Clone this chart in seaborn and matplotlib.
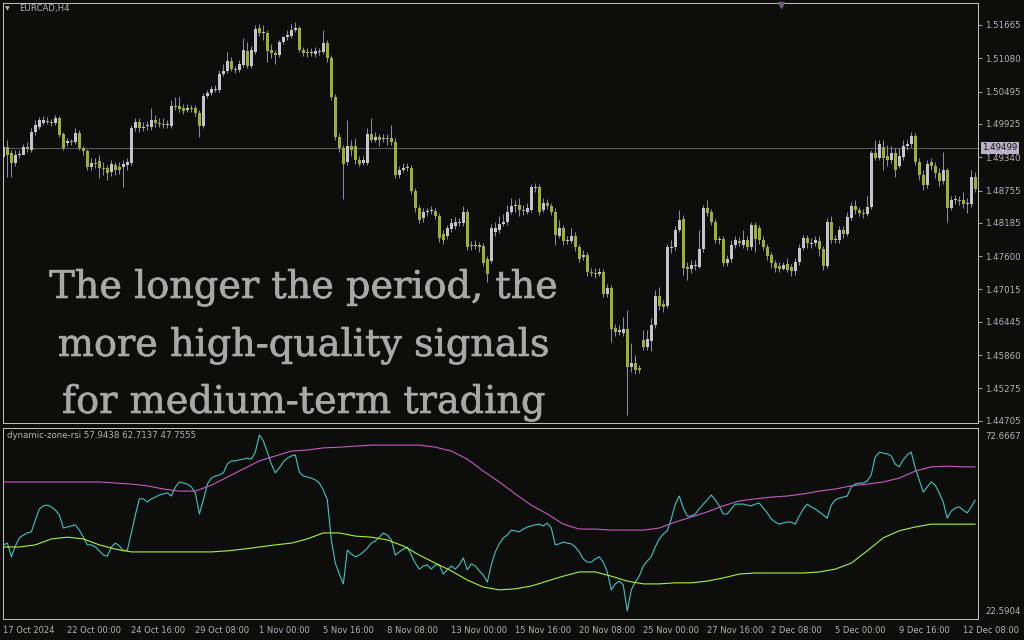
import matplotlib
matplotlib.use("Agg")
import matplotlib.pyplot as plt
import matplotlib.patheffects as pe
import numpy as np
import pandas as pd
import seaborn as sns

# EURCAD H4 candles, 244 bars
opens = [
    1.4934, 1.4952, 1.4941, 1.4924, 1.4938, 1.4938, 1.4952, 1.4947, 1.4978, 1.4987,
    1.4994, 1.4998, 1.4996, 1.4994, 1.5003, 1.4975, 1.4959, 1.4963, 1.4961, 1.4977,
    1.4950, 1.4945, 1.4917, 1.4924, 1.4927, 1.4915, 1.4915, 1.4908, 1.4920, 1.4917,
    1.4917, 1.4920, 1.4924, 1.4985, 1.4996, 1.4985, 1.4989, 1.4987, 1.4999, 1.4994,
    1.4992, 1.4991, 1.4989, 1.5024, 1.5024, 1.5021, 1.5017, 1.5021, 1.5021, 1.5012,
    1.4989, 1.5042, 1.5047, 1.5052, 1.5052, 1.5080, 1.5086, 1.5103, 1.5089, 1.5087,
    1.5096, 1.5121, 1.5094, 1.5119, 1.5161, 1.5152, 1.5152, 1.5123, 1.5117, 1.5114,
    1.5137, 1.5145, 1.5147, 1.5158, 1.5161, 1.5123, 1.5119, 1.5117, 1.5116, 1.5121,
    1.5119, 1.5135, 1.5108, 1.5040, 1.4970, 1.4950, 1.4926, 1.4954, 1.4954, 1.4929,
    1.4924, 1.4924, 1.4975, 1.4964, 1.4970, 1.4966, 1.4968, 1.4968, 1.4961, 1.4903,
    1.4912, 1.4915, 1.4915, 1.4875, 1.4845, 1.4827, 1.4838, 1.4840, 1.4840, 1.4831,
    1.4799, 1.4796, 1.4808, 1.4813, 1.4818, 1.4818, 1.4838, 1.4780, 1.4778, 1.4780,
    1.4778, 1.4755, 1.4752, 1.4803, 1.4806, 1.4817, 1.4820, 1.4838, 1.4848, 1.4850,
    1.4841, 1.4838, 1.4841, 1.4880, 1.4882, 1.4841, 1.4854, 1.4848, 1.4838, 1.4796,
    1.4810, 1.4787, 1.4787, 1.4796, 1.4776, 1.4759, 1.4762, 1.4732, 1.4731, 1.4729,
    1.4732, 1.4694, 1.4704, 1.4634, 1.4627, 1.4625, 1.4632, 1.4565, 1.4572, 1.4563,
    1.4613, 1.4600, 1.4611, 1.4639, 1.4690, 1.4676, 1.4673, 1.4774, 1.4776, 1.4806,
    1.4825, 1.4741, 1.4738, 1.4743, 1.4741, 1.4773, 1.4845, 1.4838, 1.4820, 1.4789,
    1.4790, 1.4748, 1.4755, 1.4780, 1.4787, 1.4780, 1.4789, 1.4776, 1.4815, 1.4810,
    1.4789, 1.4776, 1.4762, 1.4748, 1.4743, 1.4738, 1.4746, 1.4741, 1.4734, 1.4750,
    1.4774, 1.4792, 1.4781, 1.4783, 1.4787, 1.4773, 1.4743, 1.4820, 1.4789, 1.4789,
    1.4806, 1.4799, 1.4827, 1.4848, 1.4841, 1.4836, 1.4834, 1.4847, 1.4941, 1.4933,
    1.4952, 1.4936, 1.4929, 1.4941, 1.4919, 1.4934, 1.4954, 1.4957, 1.4971, 1.4926,
    1.4903, 1.4885, 1.4926, 1.4919, 1.4906, 1.4892, 1.4912, 1.4845, 1.4859, 1.4859,
    1.4859, 1.4852, 1.4852, 1.4899,
]
highs = [
    1.4982, 1.4964, 1.4947, 1.4947, 1.4947, 1.4957, 1.4961, 1.4985, 1.4999, 1.5005,
    1.5006, 1.5005, 1.5001, 1.5008, 1.5006, 1.4978, 1.4968, 1.4966, 1.4985, 1.4982,
    1.4954, 1.4949, 1.4933, 1.4933, 1.4938, 1.4926, 1.4920, 1.4929, 1.4926, 1.4926,
    1.4929, 1.4933, 1.4991, 1.5003, 1.5003, 1.4996, 1.4998, 1.5021, 1.5008, 1.5003,
    1.5003, 1.4999, 1.5035, 1.5040, 1.5040, 1.5028, 1.5028, 1.5026, 1.5026, 1.5017,
    1.5047, 1.5052, 1.5059, 1.5061, 1.5087, 1.5098, 1.5119, 1.5110, 1.5094, 1.5105,
    1.5144, 1.5137, 1.5130, 1.5166, 1.5168, 1.5166, 1.5158, 1.5133, 1.5123, 1.5140,
    1.5147, 1.5158, 1.5168, 1.5172, 1.5165, 1.5128, 1.5126, 1.5126, 1.5128, 1.5126,
    1.5158, 1.5140, 1.5114, 1.5045, 1.4977, 1.4956, 1.4999, 1.4964, 1.4968, 1.4936,
    1.4936, 1.4985, 1.5003, 1.4978, 1.4975, 1.4975, 1.4975, 1.4991, 1.4968, 1.4919,
    1.4924, 1.4924, 1.4920, 1.4880, 1.4850, 1.4845, 1.4845, 1.4848, 1.4845, 1.4836,
    1.4806, 1.4815, 1.4827, 1.4829, 1.4827, 1.4848, 1.4843, 1.4787, 1.4789, 1.4785,
    1.4783, 1.4760, 1.4817, 1.4820, 1.4831, 1.4834, 1.4850, 1.4862, 1.4859, 1.4862,
    1.4850, 1.4854, 1.4887, 1.4889, 1.4887, 1.4862, 1.4861, 1.4854, 1.4845, 1.4824,
    1.4815, 1.4796, 1.4810, 1.4803, 1.4781, 1.4771, 1.4767, 1.4739, 1.4739, 1.4739,
    1.4738, 1.4711, 1.4709, 1.4641, 1.4639, 1.4653, 1.4666, 1.4607, 1.4586, 1.4569,
    1.4630, 1.4630, 1.4651, 1.4701, 1.4706, 1.4683, 1.4781, 1.4789, 1.4813, 1.4841,
    1.4832, 1.4750, 1.4753, 1.4753, 1.4806, 1.4850, 1.4859, 1.4843, 1.4825, 1.4796,
    1.4796, 1.4762, 1.4789, 1.4796, 1.4794, 1.4806, 1.4796, 1.4820, 1.4820, 1.4815,
    1.4796, 1.4781, 1.4767, 1.4753, 1.4750, 1.4750, 1.4757, 1.4746, 1.4757, 1.4781,
    1.4797, 1.4797, 1.4792, 1.4796, 1.4796, 1.4778, 1.4827, 1.4831, 1.4797, 1.4813,
    1.4813, 1.4838, 1.4855, 1.4859, 1.4847, 1.4843, 1.4866, 1.4947, 1.4964, 1.4964,
    1.4964, 1.4956, 1.4954, 1.4950, 1.4950, 1.4964, 1.4964, 1.4978, 1.4977, 1.4933,
    1.4912, 1.4929, 1.4933, 1.4926, 1.4915, 1.4943, 1.4915, 1.4866, 1.4868, 1.4866,
    1.4873, 1.4862, 1.4912, 1.4908,
]
lows = [
    1.4929, 1.4899, 1.4899, 1.4919, 1.4933, 1.4947, 1.4943, 1.4943, 1.4973, 1.4984,
    1.4991, 1.4992, 1.4989, 1.4991, 1.4970, 1.4947, 1.4954, 1.4956, 1.4957, 1.4947,
    1.4938, 1.4912, 1.4912, 1.4915, 1.4898, 1.4903, 1.4894, 1.4901, 1.4903, 1.4905,
    1.4882, 1.4912, 1.4920, 1.4980, 1.4978, 1.4980, 1.4982, 1.4982, 1.4987, 1.4987,
    1.4985, 1.4985, 1.4985, 1.5017, 1.5014, 1.5010, 1.5014, 1.5014, 1.5006, 1.4970,
    1.4985, 1.5038, 1.5043, 1.5049, 1.5049, 1.5077, 1.5082, 1.5086, 1.5082, 1.5084,
    1.5093, 1.5091, 1.5091, 1.5116, 1.5147, 1.5140, 1.5101, 1.5108, 1.5098, 1.5110,
    1.5133, 1.5140, 1.5144, 1.5154, 1.5119, 1.5112, 1.5110, 1.5112, 1.5110, 1.5114,
    1.5116, 1.5101, 1.5035, 1.4964, 1.4943, 1.4861, 1.4920, 1.4936, 1.4922, 1.4919,
    1.4920, 1.4920, 1.4961, 1.4961, 1.4954, 1.4961, 1.4956, 1.4956, 1.4898, 1.4898,
    1.4908, 1.4910, 1.4869, 1.4838, 1.4818, 1.4820, 1.4831, 1.4834, 1.4825, 1.4785,
    1.4781, 1.4790, 1.4803, 1.4808, 1.4813, 1.4813, 1.4771, 1.4771, 1.4773, 1.4767,
    1.4743, 1.4715, 1.4748, 1.4796, 1.4801, 1.4813, 1.4815, 1.4834, 1.4838, 1.4831,
    1.4832, 1.4834, 1.4838, 1.4873, 1.4832, 1.4838, 1.4843, 1.4832, 1.4780, 1.4792,
    1.4780, 1.4781, 1.4783, 1.4769, 1.4750, 1.4753, 1.4725, 1.4725, 1.4722, 1.4725,
    1.4688, 1.4688, 1.4609, 1.4620, 1.4622, 1.4620, 1.4481, 1.4556, 1.4553, 1.4555,
    1.4595, 1.4595, 1.4593, 1.4634, 1.4666, 1.4662, 1.4669, 1.4766, 1.4771, 1.4803,
    1.4727, 1.4718, 1.4731, 1.4736, 1.4739, 1.4767, 1.4831, 1.4815, 1.4783, 1.4781,
    1.4743, 1.4743, 1.4750, 1.4774, 1.4778, 1.4774, 1.4771, 1.4771, 1.4767, 1.4781,
    1.4771, 1.4753, 1.4739, 1.4732, 1.4732, 1.4736, 1.4732, 1.4725, 1.4727, 1.4745,
    1.4771, 1.4774, 1.4774, 1.4778, 1.4760, 1.4736, 1.4739, 1.4783, 1.4783, 1.4783,
    1.4792, 1.4796, 1.4824, 1.4834, 1.4831, 1.4827, 1.4831, 1.4843, 1.4929, 1.4929,
    1.4912, 1.4919, 1.4924, 1.4899, 1.4915, 1.4929, 1.4947, 1.4952, 1.4920, 1.4894,
    1.4876, 1.4880, 1.4912, 1.4898, 1.4883, 1.4887, 1.4820, 1.4841, 1.4852, 1.4850,
    1.4845, 1.4836, 1.4847, 1.4873,
]
closes = [
    1.4952, 1.4938, 1.4924, 1.4938, 1.4940, 1.4952, 1.4949, 1.4978, 1.4991, 1.4999,
    1.4999, 1.4996, 1.4994, 1.5003, 1.4973, 1.4950, 1.4963, 1.4961, 1.4977, 1.4950,
    1.4945, 1.4917, 1.4924, 1.4922, 1.4915, 1.4913, 1.4906, 1.4922, 1.4912, 1.4912,
    1.4922, 1.4926, 1.4985, 1.4996, 1.4985, 1.4987, 1.4991, 1.4999, 1.4994, 1.4992,
    1.4991, 1.4992, 1.5024, 1.5022, 1.5019, 1.5015, 1.5021, 1.5019, 1.5012, 1.4989,
    1.5042, 1.5047, 1.5054, 1.5054, 1.5080, 1.5086, 1.5103, 1.5089, 1.5087, 1.5098,
    1.5123, 1.5094, 1.5123, 1.5159, 1.5152, 1.5154, 1.5121, 1.5117, 1.5114, 1.5137,
    1.5145, 1.5149, 1.5158, 1.5161, 1.5123, 1.5117, 1.5117, 1.5119, 1.5121, 1.5119,
    1.5135, 1.5108, 1.5040, 1.4970, 1.4950, 1.4922, 1.4954, 1.4947, 1.4929, 1.4922,
    1.4929, 1.4975, 1.4964, 1.4970, 1.4964, 1.4968, 1.4966, 1.4961, 1.4903, 1.4912,
    1.4915, 1.4917, 1.4875, 1.4845, 1.4824, 1.4838, 1.4840, 1.4841, 1.4831, 1.4792,
    1.4789, 1.4810, 1.4818, 1.4820, 1.4820, 1.4838, 1.4776, 1.4778, 1.4780, 1.4776,
    1.4748, 1.4729, 1.4810, 1.4810, 1.4817, 1.4820, 1.4838, 1.4848, 1.4850, 1.4841,
    1.4840, 1.4845, 1.4882, 1.4882, 1.4838, 1.4854, 1.4848, 1.4838, 1.4797, 1.4810,
    1.4787, 1.4789, 1.4796, 1.4776, 1.4755, 1.4762, 1.4732, 1.4731, 1.4729, 1.4732,
    1.4694, 1.4704, 1.4632, 1.4627, 1.4630, 1.4632, 1.4565, 1.4572, 1.4560, 1.4560,
    1.4600, 1.4615, 1.4639, 1.4690, 1.4673, 1.4671, 1.4776, 1.4776, 1.4806, 1.4824,
    1.4739, 1.4738, 1.4745, 1.4745, 1.4773, 1.4845, 1.4836, 1.4820, 1.4789, 1.4790,
    1.4748, 1.4755, 1.4780, 1.4789, 1.4783, 1.4789, 1.4776, 1.4815, 1.4790, 1.4789,
    1.4776, 1.4760, 1.4748, 1.4739, 1.4738, 1.4745, 1.4736, 1.4734, 1.4750, 1.4774,
    1.4792, 1.4783, 1.4783, 1.4789, 1.4773, 1.4743, 1.4820, 1.4789, 1.4790, 1.4806,
    1.4799, 1.4829, 1.4848, 1.4841, 1.4836, 1.4834, 1.4847, 1.4941, 1.4933, 1.4957,
    1.4933, 1.4929, 1.4941, 1.4912, 1.4936, 1.4954, 1.4957, 1.4971, 1.4926, 1.4903,
    1.4885, 1.4922, 1.4919, 1.4906, 1.4892, 1.4912, 1.4845, 1.4859, 1.4861, 1.4857,
    1.4852, 1.4854, 1.4899, 1.4878,
]
last_price = 1.49499
price_levels = [1.51665, 1.51080, 1.50495, 1.49925, 1.49340, 1.48755, 1.48185,
                1.47600, 1.47015, 1.46445, 1.45860, 1.45275, 1.44705]

# dynamic zone RSI, one value per bar
rsi = [
    41.4, 41.9, 38.0, 41.1, 43.4, 44.2, 44.8, 45.1, 48.5, 51.6,
    52.5, 52.7, 52.2, 51.3, 49.9, 46.2, 46.5, 46.8, 47.1, 45.6,
    43.6, 41.4, 41.4, 40.8, 39.7, 38.5, 38.2, 40.8, 41.9, 41.1,
    39.7, 39.9, 44.8, 49.9, 54.5, 54.5, 53.6, 54.5, 55.0, 55.6,
    55.9, 56.2, 55.3, 57.9, 59.3, 59.0, 58.7, 57.9, 56.2, 50.2,
    54.2, 58.7, 60.4, 61.0, 61.3, 61.9, 64.4, 65.3, 65.3, 65.6,
    65.8, 66.1, 65.8, 67.8, 72.67, 71.0, 67.8, 64.4, 61.9, 63.3,
    65.0, 66.1, 66.7, 67.0, 62.1, 61.0, 60.7, 60.4, 59.9, 59.0,
    57.0, 54.2, 42.8, 36.2, 33.1, 30.3, 39.9, 38.8, 38.0, 38.5,
    39.4, 40.5, 41.9, 42.5, 43.6, 44.8, 44.2, 42.8, 38.5, 39.4,
    40.2, 40.8, 38.5, 36.2, 34.5, 35.4, 35.7, 34.5, 35.7, 35.7,
    33.1, 34.3, 35.4, 34.5, 35.7, 37.7, 34.3, 36.0, 35.4, 34.0,
    32.8, 30.8, 35.7, 39.4, 41.7, 43.4, 44.2, 45.6, 45.4, 45.1,
    45.9, 46.5, 46.8, 47.1, 47.3, 46.8, 47.6, 46.2, 41.4, 41.7,
    42.2, 41.9, 41.7, 40.8, 39.4, 37.4, 36.5, 36.5, 37.4, 38.0,
    36.5, 33.7, 28.6, 30.3, 31.1, 30.0, 22.59, 28.6, 30.8, 32.5,
    35.4, 36.8, 38.0, 40.8, 43.1, 44.5, 45.4, 48.8, 53.0, 55.3,
    51.9, 49.6, 49.6, 50.2, 51.6, 53.0, 54.2, 55.6, 54.2, 52.5,
    50.2, 50.2, 51.6, 53.0, 53.0, 53.0, 52.7, 52.5, 53.0, 53.3,
    51.9, 50.5, 48.8, 47.9, 47.3, 47.6, 47.9, 47.9, 47.3, 49.6,
    51.6, 53.0, 52.2, 51.6, 50.8, 49.9, 49.0, 52.7, 54.2, 54.7,
    55.0, 55.3, 57.9, 58.7, 59.0, 59.0, 59.6, 61.3, 66.4, 67.8,
    67.5, 67.3, 66.7, 64.4, 63.6, 65.6, 67.0, 67.8, 63.3, 59.9,
    56.4, 57.9, 59.3, 58.4, 56.2, 53.6, 49.0, 51.0, 51.9, 52.2,
    51.3, 50.5, 52.2, 54.2,
]
# zone bands, read every 4th bar
band_bars = list(range(0, 241, 4)) + [243]
upper_zone = [
    59.3, 59.3, 59.3, 59.3, 59.3, 59.3, 59.3, 59.0, 58.7, 58.2,
    57.3, 56.7, 56.7, 58.4, 60.7, 63.0, 65.3, 66.7, 68.1, 68.4,
    69.0, 69.2, 69.5, 69.8, 69.8, 69.8, 69.8, 69.2, 68.1, 65.8,
    62.4, 59.3, 55.9, 52.7, 50.2, 47.3, 45.9, 45.9, 45.6, 45.6,
    45.6, 46.2, 47.9, 49.3, 50.8, 52.5, 53.9, 54.5, 55.0, 55.3,
    55.9, 56.7, 57.3, 58.2, 58.7, 59.3, 60.4, 62.4, 63.6, 63.8,
    63.6, 63.6,
]
lower_zone = [
    40.8, 40.8, 41.4, 43.1, 43.6, 43.1, 41.4, 40.2, 39.4, 39.4,
    39.4, 39.4, 39.4, 39.4, 39.7, 40.2, 40.8, 41.4, 41.9, 43.1,
    44.8, 44.8, 43.9, 43.6, 42.8, 41.1, 38.5, 36.2, 34.0, 31.4,
    29.4, 28.6, 28.9, 29.7, 31.1, 32.5, 33.7, 33.7, 32.5, 31.1,
    30.3, 30.3, 30.6, 30.6, 31.1, 32.0, 33.1, 33.4, 33.4, 33.4,
    33.4, 33.7, 34.5, 36.2, 39.7, 43.4, 45.4, 46.5, 47.3, 47.3,
    47.3, 47.3,
]
rsi_levels = [72.6667, 22.5904]

# time axis labels, one every 16 bars
tick_bars = list(range(0, 241, 16))
tick_labels = ["17 Oct 2024", "22 Oct 00:00", "24 Oct 16:00", "29 Oct 08:00",
               "1 Nov 00:00", "5 Nov 16:00", "8 Nov 08:00", "13 Nov 00:00",
               "15 Nov 16:00", "20 Nov 08:00", "25 Nov 00:00", "27 Nov 16:00",
               "2 Dec 08:00", "5 Dec 00:00", "9 Dec 16:00", "12 Dec 08:00"]

BG = "#0d0e0b"
BORDER = "#bdbdbd"
TXT = "#b4b0bc"
BULL = "#c4c4ca"
BEAR = "#a0b02e"
WICK = "#8c8ca0"

sns.set_style("dark", {"axes.facecolor": BG, "figure.facecolor": BG})
plt.rcParams["font.family"] = ["DejaVu Sans"]

W, H = 1024, 640
fig = plt.figure(figsize=(W / 100, H / 100), dpi=100)
fig.patch.set_facecolor(BG)
ax = fig.add_axes([3 / W, 1 - 423 / H, 975 / W, 420 / H])
ax2 = fig.add_axes([3 / W, 1 - 619 / H, 975 / W, 191 / H])

df = pd.DataFrame({"open": opens, "high": highs, "low": lows, "close": closes})
df["bar"] = np.arange(len(df))
up = df["close"] >= df["open"]
body = (df["close"] - df["open"]).abs().clip(lower=0.00018)
bottom = df[["open", "close"]].min(axis=1)

ax.vlines(df["bar"], df["low"], df["high"], color=WICK, lw=0.75, zorder=2)
ax.bar(df["bar"][up], body[up], bottom=bottom[up], width=0.75,
       color=BULL, linewidth=0, zorder=3)
ax.bar(df["bar"][~up], body[~up], bottom=bottom[~up], width=0.75,
       color=BEAR, linewidth=0, zorder=3)
ax.axhline(last_price, color="#6c6c6c", lw=0.6, zorder=1)

ax.set_xlim(-0.1, 243.7)
ax.set_ylim(1.44668, 1.52051)
ax.set_xticks([])
ax.yaxis.tick_right()
ax.set_yticks(price_levels)
ax.set_yticklabels([f"{p:.5f}" for p in price_levels])
ax.tick_params(axis="y", direction="out", length=3, width=0.6, color=BORDER,
               labelcolor=TXT, labelsize=6.2, pad=2)

# indicator panel
rsi_df = pd.DataFrame({"bar": np.arange(len(rsi)), "rsi": rsi})
zone_df = pd.DataFrame({"bar": band_bars, "upper": upper_zone, "lower": lower_zone})
sns.lineplot(data=rsi_df, x="bar", y="rsi", ax=ax2, color="#3fc4c4", linewidth=0.8, zorder=2)
sns.lineplot(data=zone_df, x="bar", y="upper", ax=ax2, color="#c45cc4", linewidth=0.8, zorder=3)
sns.lineplot(data=zone_df, x="bar", y="lower", ax=ax2, color="#a6f23a", linewidth=0.8, zorder=3)
ax2.set_xlabel("")
ax2.set_ylabel("")
ax2.set_xlim(-0.1, 243.7)
ax2.set_ylim(20.31, 74.66)
ax2.yaxis.tick_right()
ax2.set_yticks(rsi_levels)
ax2.set_yticklabels([f"{v:.4f}" for v in rsi_levels])
ax2.tick_params(axis="y", length=0, labelcolor=TXT, labelsize=6.2, pad=5)
ax2.set_xticks(tick_bars)
ax2.set_xticklabels(tick_labels)
for lab in ax2.get_xticklabels():
    lab.set_horizontalalignment("left")
ax2.tick_params(axis="x", direction="out", length=3, width=0.6, color=BORDER,
                labelcolor=TXT, labelsize=6.0, pad=2)

for a in (ax, ax2):
    a.grid(False)
    a.set_facecolor(BG)
    for s in a.spines.values():
        s.set_visible(True)
        s.set_color(BORDER)
        s.set_linewidth(0.75)

# labels and overlay
fig.text(5 / W, 1 - 9 / H, "\u25bc", fontsize=4.5, color=TXT, va="center")
fig.text(19 / W, 1 - 9 / H, "EURCAD,H4", fontsize=6.2, color=TXT, va="center")
fig.text(7 / W, 1 - 435 / H, "dynamic-zone-rsi 57.9438 62.7137 47.7555",
         fontsize=6.2, color=TXT, va="center")
fig.text(982 / W, 1 - 148 / H, f"{last_price:.5f}", fontsize=6.2, color="#15131a",
         va="center", bbox=dict(boxstyle="square,pad=0.15", fc="#b9b1c6", ec="none"))
ax.plot([(781 - 3) / 975], [0.995], marker="v", ms=4.5, color="#6e5a7c",
        transform=ax.transAxes, clip_on=False, zorder=5)

overlay = ["The longer the period, the", "more high-quality signals",
           "for medium-term trading"]
for line, base in zip(overlay, [298, 356, 413]):
    fig.text(304 / W, 1 - base / H, line, ha="center", va="baseline",
             fontsize=27.5, family="DejaVu Serif", color="#a8a8a8", zorder=10,
             path_effects=[pe.withStroke(linewidth=0.45, foreground="#a8a8a8")])

fig.savefig("out.png", dpi=100, facecolor=BG)
